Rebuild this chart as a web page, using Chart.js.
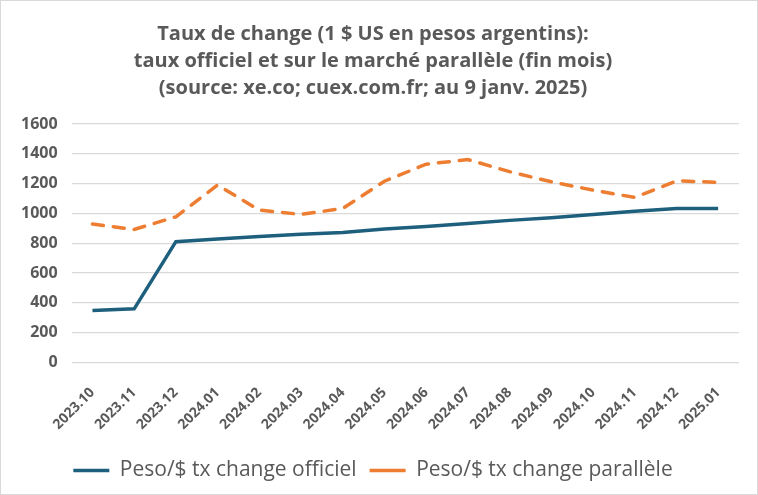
<!DOCTYPE html>
<html>
<head>
<meta charset="utf-8">
<script src="https://cdn.jsdelivr.net/npm/chart.js"></script>
<style>
  html, body { margin: 0; padding: 0; background: #fff; }
  #wrap { width: 758px; height: 495px; box-sizing: border-box; border: 1px solid #d9d9d9; position: relative; }
</style>
</head>
<body>
<div id="wrap"><canvas id="fxChart"></canvas></div>
<script>
// Mois (fin de mois)
const months = ['2023.10', '2023.11', '2023.12', '2024.01', '2024.02', '2024.03', '2024.04', '2024.05',
  '2024.06', '2024.07', '2024.08', '2024.09', '2024.10', '2024.11', '2024.12', '2025.01'];
// Taux officiel
const officialRate = [348, 359, 810, 828, 845, 860, 872, 895, 912, 932, 953, 970, 993, 1015, 1033, 1033];
// Taux parallele
const parallelRate = [928, 892, 977, 1190, 1022, 993, 1033, 1216, 1330, 1361, 1280, 1212, 1156, 1107, 1218, 1209];
const yTicks = [0, 200, 400, 600, 800, 1000, 1200, 1400, 1600];

const font = "'Open Sans', sans-serif";
const grey = '#595959';

const ctx = document.getElementById('fxChart').getContext('2d');
new Chart(ctx, {
  type: 'line',
  data: {
    labels: months,
    datasets: [{
      label: 'Peso/$ tx change officiel',
      data: officialRate,
      borderColor: '#1d5f7d',
      backgroundColor: '#1d5f7d',
      borderWidth: 3.5,
      pointRadius: 0,
      pointStyle: 'line',
      tension: 0,
      fill: false
    }, {
      label: 'Peso/$ tx change parallèle',
      data: parallelRate,
      borderColor: '#ed7d31',
      backgroundColor: '#ed7d31',
      borderWidth: 3.5,
      borderDash: [11, 10],
      borderCapStyle: 'round',
      pointRadius: 0,
      pointStyle: 'line',
      tension: 0,
      fill: false
    }]
  },
  options: {
    responsive: true,
    maintainAspectRatio: false,
    animation: false,
    layout: { padding: { left: 6, right: 18, top: 6, bottom: 3 } },
    plugins: {
      title: {
        display: true,
        text: ['Taux de change (1 $ US en pesos argentins):',
          'taux officiel et sur le marché parallèle (fin mois)',
          '(source: xe.co; cuex.com.fr; au 9 janv. 2025)'],
        color: grey,
        font: { family: font, size: 20, weight: 'bold', lineHeight: 1.35 },
        padding: { top: 14, bottom: 22 }
      },
      legend: {
        position: 'bottom',
        labels: {
          color: grey,
          font: { family: font, size: 21 },
          usePointStyle: true,
          pointStyleWidth: 36,
          padding: 13
        }
      },
      tooltip: { enabled: false }
    },
    scales: {
      x: {
        offset: true,
        grid: { display: false },
        border: { display: false },
        ticks: {
          color: grey,
          font: { family: font, size: 14, weight: 'bold' },
          maxRotation: 45,
          minRotation: 45,
          padding: 14
        }
      },
      y: {
        min: 0,
        max: 1600,
        afterBuildTicks: axis => { axis.ticks = yTicks.map(v => ({ value: v })); },
        grid: { color: '#d9d9d9', lineWidth: 1.2, drawTicks: false },
        border: { display: false },
        ticks: {
          color: grey,
          font: { family: font, size: 16, weight: 'bold' },
          padding: 14,
          callback: v => String(v)
        }
      }
    }
  }
});
</script>
</body>
</html>
